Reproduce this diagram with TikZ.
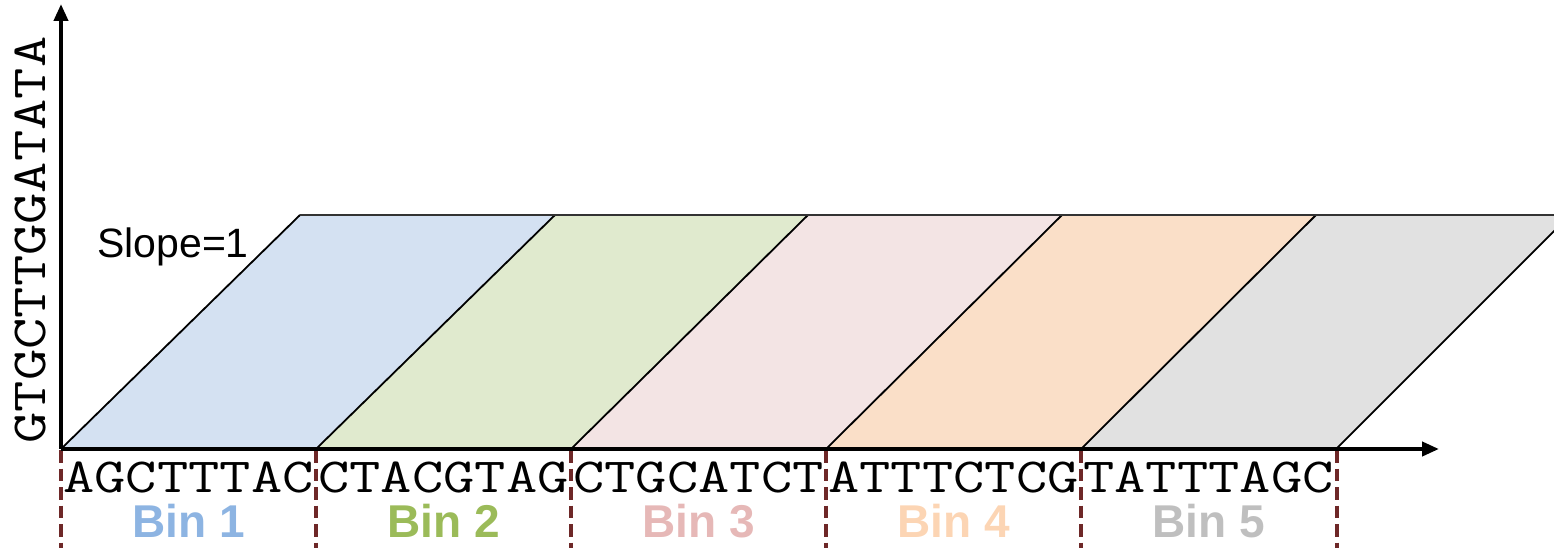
\documentclass[tikz,border=0pt]{standalone}
\usepackage{fontspec}
\setmainfont{Liberation Sans}
\newfontfamily\monof{Latin Modern Mono}
\usetikzlibrary{arrows.meta}
\definecolor{fillA}{HTML}{D4E1F2}
\definecolor{fillB}{HTML}{E0EACE}
\definecolor{fillC}{HTML}{F3E4E4}
\definecolor{fillD}{HTML}{FADFC8}
\definecolor{fillE}{HTML}{E1E1E1}
\definecolor{labA}{HTML}{8DB4E2}
\definecolor{labB}{HTML}{9BBB59}
\definecolor{labC}{HTML}{E6B8B7}
\definecolor{labD}{HTML}{FCD5B4}
\definecolor{labE}{HTML}{BFBFBF}
\definecolor{dashcol}{HTML}{6E2828}
\tikzset{
  band/.style={draw=black, line width=1.8pt, line join=miter},
  axis/.style={line width=4pt, -{Triangle[length=17pt,width=14pt]}},
  seq/.style={font=\monof\fontsize{49}{56}\selectfont, anchor=base, inner sep=0pt},
  binlab/.style={font=\bfseries\fontsize{46}{50}\selectfont, anchor=base, inner sep=0pt},
  sep/.style={draw=dashcol, line width=3.5pt, dash pattern=on 12.5pt off 6pt},
}
\begin{document}
\begin{tikzpicture}[x=1pt,y=-1pt]
\useasboundingbox (0,0) rectangle (1554,548);
\begin{scope}
\clip (0,0) rectangle (1554,548);
\fill[fillA] (61,449) -- (300,215) -- (555,215) -- (316,449) -- cycle;
\fill[fillB] (316,449) -- (555,215) -- (808,215) -- (571,449) -- cycle;
\fill[fillC] (571,449) -- (808,215) -- (1062,215) -- (826,449) -- cycle;
\fill[fillD] (826,449) -- (1062,215) -- (1316,215) -- (1081,449) -- cycle;
\fill[fillE] (1081,449) -- (1316,215) -- (1570,215) -- (1336,449) -- cycle;
\draw[band] (61,449) -- (300,215);
\draw[band] (316,449) -- (555,215);
\draw[band] (571,449) -- (808,215);
\draw[band] (826,449) -- (1062,215);
\draw[band] (1081,449) -- (1316,215);
\draw[band] (1336,449) -- (1570,215);
\draw[line width=2.2pt, black!80] (300,215) -- (1570,215);
\end{scope}
% separators
\foreach \x/\n in {61/s0,316/s1,571/s2,826/s3,1081/s4,1337/s5}{
  \coordinate (\n t) at (\x,450);
  \coordinate (\n b) at (\x,548);
  \draw[sep] (\n t) -- (\n b);
}
% axes
\coordinate (O) at (61,449);
\coordinate (Y) at (61,4);
\coordinate (X) at (1439,449);
\draw[axis] (O) -- (Y);
\draw[axis] (O) -- (X);
% sequences
\node[seq, xscale=1.24] (q1) at (188.5,492) {AGCTTTAC};
\node[seq, xscale=1.24] (q2) at (443.5,492) {CTACGTAG};
\node[seq, xscale=1.24] (q3) at (698.5,492) {CTGCATCT};
\node[seq, xscale=1.24] (q4) at (953.5,492) {ATTTCTCG};
\node[seq, xscale=1.24] (q5) at (1208.5,492) {TATTTAGC};
\node[seq, rotate=90, xscale=1.24] (qy) at (45,240) {GTGCTTGGATATA};
% bin labels
\node[binlab, text=labA] (b1) at (188.5,537) {Bin 1};
\node[binlab, text=labB] (b2) at (443.5,537) {Bin 2};
\node[binlab, text=labC] (b3) at (698.5,537) {Bin 3};
\node[binlab, text=labD] (b4) at (953.5,537) {Bin 4};
\node[binlab, text=labE] (b5) at (1208.5,537) {Bin 5};
% slope
\node[font=\fontsize{41}{45}\selectfont, anchor=base west, inner sep=0pt] (sl) at (97,257) {Slope=1};
\end{tikzpicture}
\end{document}
